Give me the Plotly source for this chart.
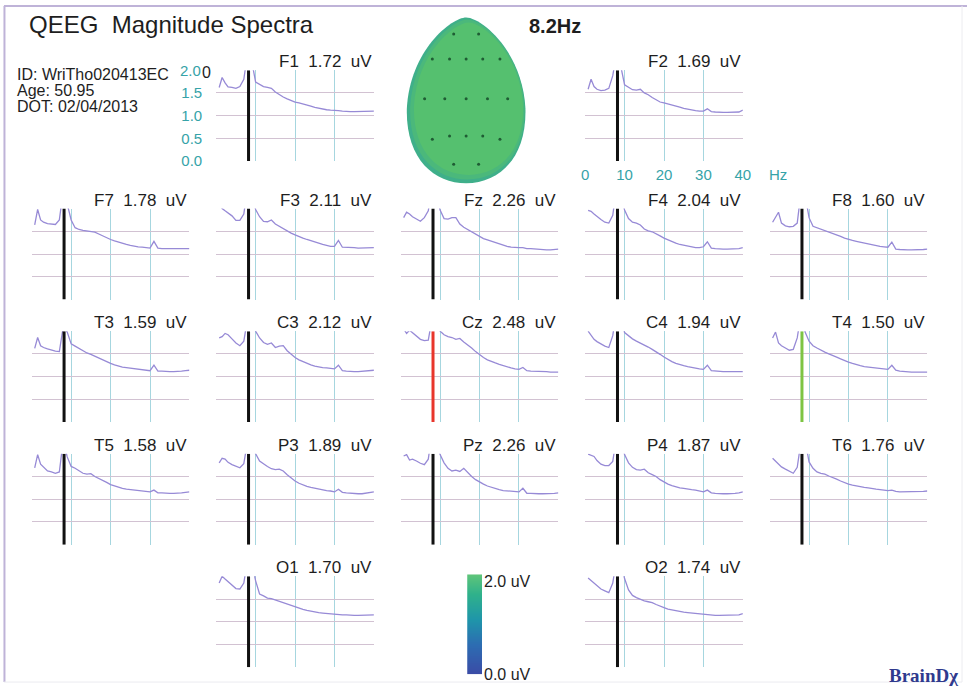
import plotly.graph_objects as go

# ---------------- data ----------------
FREQ_HZ = [0.75, 1.5, 2.25, 3, 4, 5, 6, 7, 8, 9, 10, 11, 12, 13, 14, 15, 16, 17, 18, 19, 20,
           21, 22, 23, 24, 25, 26, 27, 28, 29, 30, 31, 32, 33, 34, 35, 36, 37, 38, 39, 40]

CHANNELS = ["F1", "F2", "F7", "F3", "Fz", "F4", "F8", "T3", "C3", "Cz", "C4", "T4",
            "T5", "P3", "Pz", "P4", "T6", "O1", "O2"]
MAGNITUDE_UV = [1.72, 1.69, 1.78, 2.11, 2.26, 2.04, 1.60, 1.59, 2.12, 2.48, 1.94, 1.50,
                1.58, 1.89, 2.26, 1.87, 1.76, 1.70, 1.74]
PEAK_FREQ_HZ = 8.2

SPEC_F1 = [1.62, 1.84, 1.72, 1.63, 1.62, 1.60, 1.64, 1.80, 2.40, 2.20, 1.74, 1.68, 1.64, 1.62, 1.60, 1.52, 1.46, 1.41, 1.37, 1.33, 1.30,
           1.28, 1.26, 1.24, 1.21, 1.18, 1.16, 1.14, 1.13, 1.12, 1.12, 1.11, 1.10, 1.09, 1.09, 1.09, 1.09, 1.09, 1.09, 1.09, 1.10]
SPEC_F2 = [1.58, 1.80, 1.64, 1.58, 1.55, 1.56, 1.60, 1.88, 2.40, 2.10, 1.68, 1.62, 1.57, 1.56, 1.58, 1.50, 1.46, 1.40, 1.35, 1.30, 1.28,
           1.26, 1.24, 1.22, 1.19, 1.16, 1.14, 1.12, 1.11, 1.10, 1.10, 1.15, 1.09, 1.08, 1.07, 1.07, 1.07, 1.07, 1.07, 1.08, 1.12]
SPEC_F7 = [1.64, 1.98, 1.75, 1.70, 1.67, 1.66, 1.65, 1.75, 2.40, 2.10, 1.75, 1.58, 1.54, 1.52, 1.51, 1.50, 1.48, 1.44, 1.40, 1.35, 1.32,
           1.29, 1.26, 1.23, 1.21, 1.19, 1.17, 1.16, 1.15, 1.14, 1.13, 1.28, 1.13, 1.12, 1.12, 1.12, 1.11, 1.11, 1.11, 1.12, 1.12]
SPEC_F3 = [2.15, 2.00, 1.95, 1.90, 1.84, 1.74, 1.74, 1.88, 2.50, 2.30, 1.98, 1.82, 1.72, 1.71, 1.75, 1.66, 1.61, 1.55, 1.50, 1.46, 1.42,
           1.38, 1.35, 1.32, 1.29, 1.26, 1.23, 1.21, 1.19, 1.17, 1.17, 1.30, 1.15, 1.15, 1.14, 1.14, 1.13, 1.13, 1.13, 1.14, 1.14]
SPEC_FZ = [1.80, 1.92, 1.88, 1.82, 1.77, 1.72, 1.80, 1.95, 2.50, 2.30, 1.97, 1.78, 1.77, 1.80, 1.80, 1.66, 1.59, 1.54, 1.48, 1.43, 1.38,
           1.34, 1.31, 1.28, 1.25, 1.22, 1.19, 1.17, 1.15, 1.14, 1.14, 1.14, 1.12, 1.12, 1.11, 1.11, 1.10, 1.09, 1.09, 1.10, 1.11]
SPEC_F4 = [1.96, 1.94, 1.88, 1.82, 1.76, 1.70, 1.68, 1.85, 2.50, 2.30, 1.97, 1.78, 1.70, 1.68, 1.64, 1.55, 1.51, 1.49, 1.45, 1.40, 1.35,
           1.31, 1.27, 1.24, 1.21, 1.19, 1.17, 1.15, 1.14, 1.14, 1.16, 1.27, 1.13, 1.12, 1.11, 1.11, 1.11, 1.11, 1.11, 1.12, 1.14]
SPEC_F8 = [1.70, 1.80, 1.92, 1.68, 1.62, 1.60, 1.61, 1.68, 2.40, 2.30, 1.80, 1.61, 1.58, 1.55, 1.52, 1.49, 1.46, 1.42, 1.39, 1.35, 1.32,
           1.30, 1.28, 1.26, 1.24, 1.22, 1.20, 1.18, 1.17, 1.16, 1.15, 1.26, 1.11, 1.10, 1.09, 1.09, 1.09, 1.09, 1.09, 1.10, 1.11]
SPEC_T3 = [1.62, 1.86, 1.68, 1.64, 1.61, 1.58, 1.56, 1.55, 2.10, 1.98, 1.72, 1.67, 1.62, 1.57, 1.52, 1.49, 1.45, 1.40, 1.36, 1.32, 1.29,
           1.26, 1.23, 1.21, 1.20, 1.19, 1.18, 1.17, 1.16, 1.14, 1.13, 1.25, 1.12, 1.12, 1.11, 1.11, 1.11, 1.11, 1.12, 1.13, 1.14]
SPEC_C3 = [1.85, 1.88, 1.95, 1.92, 1.83, 1.74, 1.68, 1.78, 2.30, 2.30, 2.00, 1.85, 1.75, 1.71, 1.74, 1.64, 1.67, 1.68, 1.57, 1.49, 1.42,
           1.37, 1.33, 1.30, 1.26, 1.23, 1.21, 1.20, 1.19, 1.18, 1.17, 1.25, 1.13, 1.12, 1.11, 1.11, 1.11, 1.12, 1.12, 1.13, 1.14]
SPEC_CZ = [2.05, 1.95, 2.02, 1.96, 1.88, 1.82, 1.79, 1.80, 2.30, 2.30, 2.00, 1.92, 1.88, 1.86, 1.82, 1.84, 1.76, 1.70, 1.63, 1.55, 1.48,
           1.42, 1.37, 1.33, 1.30, 1.27, 1.24, 1.21, 1.19, 1.17, 1.16, 1.20, 1.13, 1.12, 1.12, 1.11, 1.11, 1.11, 1.10, 1.10, 1.10]
SPEC_C4 = [2.00, 1.92, 1.82, 1.77, 1.72, 1.67, 1.64, 1.90, 2.50, 2.30, 1.97, 1.89, 1.83, 1.78, 1.74, 1.70, 1.65, 1.60, 1.55, 1.49, 1.43,
           1.37, 1.33, 1.29, 1.26, 1.24, 1.22, 1.20, 1.18, 1.17, 1.16, 1.25, 1.13, 1.12, 1.11, 1.11, 1.11, 1.11, 1.11, 1.11, 1.11]
SPEC_T4 = [1.85, 1.98, 1.74, 1.68, 1.63, 1.58, 1.60, 1.85, 2.40, 1.98, 1.78, 1.68, 1.63, 1.58, 1.54, 1.50, 1.47, 1.43, 1.39, 1.35, 1.32,
           1.29, 1.26, 1.24, 1.22, 1.21, 1.19, 1.18, 1.17, 1.16, 1.16, 1.25, 1.14, 1.12, 1.11, 1.10, 1.10, 1.10, 1.10, 1.10, 1.10]
SPEC_T5 = [1.69, 1.98, 1.77, 1.70, 1.62, 1.60, 1.57, 1.60, 2.30, 1.93, 1.72, 1.68, 1.63, 1.57, 1.55, 1.56, 1.50, 1.46, 1.42, 1.37, 1.32,
           1.29, 1.26, 1.24, 1.22, 1.21, 1.19, 1.18, 1.17, 1.16, 1.16, 1.20, 1.14, 1.14, 1.13, 1.13, 1.13, 1.13, 1.14, 1.15, 1.16]
SPEC_P3 = [1.80, 1.90, 1.88, 1.81, 1.76, 1.72, 1.69, 1.78, 2.30, 2.30, 2.00, 1.84, 1.77, 1.72, 1.67, 1.65, 1.66, 1.62, 1.54, 1.46, 1.40,
           1.35, 1.31, 1.28, 1.26, 1.24, 1.22, 1.20, 1.19, 1.18, 1.16, 1.22, 1.15, 1.14, 1.13, 1.12, 1.12, 1.12, 1.13, 1.14, 1.16]
SPEC_PZ = [1.95, 1.98, 1.86, 1.88, 1.84, 1.79, 1.76, 1.88, 2.50, 2.30, 1.98, 1.80, 1.68, 1.62, 1.64, 1.61, 1.68, 1.58, 1.50, 1.43, 1.37,
           1.33, 1.29, 1.26, 1.23, 1.21, 1.19, 1.18, 1.17, 1.16, 1.16, 1.24, 1.13, 1.13, 1.12, 1.12, 1.12, 1.12, 1.12, 1.13, 1.14]
SPEC_P4 = [1.99, 1.97, 1.94, 1.85, 1.77, 1.74, 1.74, 1.83, 2.40, 2.30, 1.98, 1.80, 1.70, 1.65, 1.64, 1.66, 1.58, 1.54, 1.50, 1.43, 1.37,
           1.33, 1.30, 1.27, 1.25, 1.24, 1.22, 1.21, 1.20, 1.18, 1.16, 1.20, 1.14, 1.13, 1.12, 1.12, 1.12, 1.12, 1.13, 1.14, 1.16]
SPEC_T6 = [1.90, 1.84, 1.76, 1.71, 1.66, 1.62, 1.57, 1.70, 2.30, 2.30, 1.82, 1.68, 1.60, 1.57, 1.55, 1.51, 1.48, 1.44, 1.40, 1.36, 1.33,
           1.31, 1.29, 1.27, 1.26, 1.25, 1.23, 1.22, 1.21, 1.20, 1.19, 1.20, 1.17, 1.16, 1.16, 1.16, 1.16, 1.16, 1.17, 1.17, 1.18]
SPEC_O1 = [1.85, 2.00, 1.94, 1.88, 1.80, 1.73, 1.72, 1.85, 2.40, 2.30, 1.90, 1.61, 1.57, 1.52, 1.51, 1.48, 1.45, 1.42, 1.39, 1.35, 1.32,
           1.29, 1.27, 1.25, 1.23, 1.21, 1.20, 1.19, 1.18, 1.17, 1.16, 1.16, 1.15, 1.15, 1.14, 1.14, 1.14, 1.14, 1.14, 1.14, 1.15]
SPEC_O2 = [1.96, 1.90, 1.85, 1.79, 1.72, 1.68, 1.64, 1.85, 2.40, 2.30, 1.95, 1.70, 1.58, 1.53, 1.49, 1.46, 1.44, 1.42, 1.38, 1.34, 1.31,
           1.28, 1.26, 1.24, 1.22, 1.21, 1.20, 1.19, 1.18, 1.17, 1.16, 1.16, 1.15, 1.14, 1.14, 1.14, 1.14, 1.14, 1.14, 1.15, 1.18]

SPECTRA = {"F1": SPEC_F1, "F2": SPEC_F2, "F7": SPEC_F7, "F3": SPEC_F3, "Fz": SPEC_FZ, "F4": SPEC_F4,
           "F8": SPEC_F8, "T3": SPEC_T3, "C3": SPEC_C3, "Cz": SPEC_CZ, "C4": SPEC_C4, "T4": SPEC_T4,
           "T5": SPEC_T5, "P3": SPEC_P3, "Pz": SPEC_PZ, "P4": SPEC_P4, "T6": SPEC_T6, "O1": SPEC_O1, "O2": SPEC_O2}

# electrode positions on the head map (head-normalised coordinates)
ELEC_X = [-0.21, 0.21, -0.57, -0.28, 0.0, 0.28, 0.57, -0.70, -0.36, 0.0, 0.36, 0.70,
          -0.57, -0.28, 0.0, 0.28, 0.57, -0.21, 0.21]
ELEC_Y = [0.80, 0.80, 0.50, 0.50, 0.50, 0.50, 0.50, 0.02, 0.02, 0.02, 0.02, 0.02,
          -0.47, -0.43, -0.43, -0.43, -0.47, -0.77, -0.77]

Y_TICKS = [0.0, 0.5, 1.0, 1.5]
X_TICKS = [10, 20, 30, 40]
COLORBAR_RANGE = [0.0, 2.0]

SUBJECT_ID = "ID: WriTho020413EC"
SUBJECT_AGE = "Age: 50.95"
SUBJECT_DOT = "DOT: 02/04/2013"

# ---------------- layout / styling ----------------
W, H = 975, 695
PANEL_ROWS = [[None, "F1", None, "F2", None],
              ["F7", "F3", "Fz", "F4", "F8"],
              ["T3", "C3", "Cz", "C4", "T4"],
              ["T5", "P3", "Pz", "P4", "T6"],
              [None, "O1", None, "O2", None]]
COL_LEFT = [32, 218, 404, 590, 776]
ROW_TOP = [71, 211, 335, 459, 583]
PANEL_W, PANEL_H = 159, 92

FONT = "Arial, Liberation Sans, sans-serif"
CURVE = "#978ad6"
VGRID = "#a6d6df"
HGRID = "#d2c2d2"
TEAL = "#36a3a8"
TXT = "#1e1e1e"
NB = "\u00a0"


def px_x(p):
    return p / W


def px_y(p):
    return 1 - p / H


def sfx(i):
    return "" if i == 1 else str(i)


def head_path(s=1.0, dx=0.0, dy=0.0):
    pts = [(0, 1), (0.25, 1.0), (0.95, 0.60), (1.0, -0.1), (1.02, -0.70), (0.55, -1.0), (0, -1.0),
           (-0.55, -1.0), (-1.02, -0.70), (-1.0, -0.1), (-0.95, 0.60), (-0.25, 1.0), (0, 1)]
    q = [f"{x * s + dx:.4f},{y * s + dy:.4f}" for x, y in pts]
    return f"M {q[0]} C {q[1]} {q[2]} {q[3]} C {q[4]} {q[5]} {q[6]} C {q[7]} {q[8]} {q[9]} C {q[10]} {q[11]} {q[12]} Z"


mag = dict(zip(CHANNELS, MAGNITUDE_UV))
max_ch = max(mag, key=mag.get)
min_ch = min(mag, key=mag.get)
marker_color = {ch: "#111111" for ch in CHANNELS}
marker_color[max_ch] = "#e8352c"
marker_color[min_ch] = "#7dc443"

fig = go.Figure()
lay = {}
ann = []
shapes = []

idx = 0
for r, row in enumerate(PANEL_ROWS):
    for c, ch in enumerate(row):
        if ch is None:
            continue
        idx += 1
        s = sfx(idx)
        xr, yr = "x" + s, "y" + s
        lay["xaxis" + s] = dict(
            domain=[px_x(COL_LEFT[c]), px_x(COL_LEFT[c] + PANEL_W)], range=[0, 40],
            anchor=yr, tickvals=X_TICKS, ticktext=[str(v) for v in X_TICKS],
            showgrid=True, gridcolor=VGRID, gridwidth=1, zeroline=False, showline=False,
            ticks="", showticklabels=(ch == "F2"), ticklabelstandoff=3,
            tickfont=dict(family=FONT, size=15, color=TEAL), fixedrange=True)
        lay["yaxis" + s] = dict(
            domain=[px_y(ROW_TOP[r] + PANEL_H), px_y(ROW_TOP[r])], range=[0, 2.0],
            anchor=xr, tickvals=Y_TICKS, ticktext=[f"{v:.1f}" for v in Y_TICKS],
            showgrid=True, gridcolor=HGRID, gridwidth=1, zeroline=False, showline=False,
            ticks="", showticklabels=(ch == "F1"), ticklabelstandoff=13,
            tickfont=dict(family=FONT, size=15, color=TEAL), fixedrange=True)
        fig.add_trace(go.Scatter(x=FREQ_HZ, y=SPECTRA[ch], xaxis=xr, yaxis=yr, mode="lines",
                                 line=dict(color=CURVE, width=1.3), hoverinfo="skip",
                                 showlegend=False))
        fig.add_trace(go.Scatter(x=[PEAK_FREQ_HZ, PEAK_FREQ_HZ], y=[0, 2.0], xaxis=xr, yaxis=yr,
                                 mode="lines", line=dict(color=marker_color[ch], width=3),
                                 hoverinfo="skip", showlegend=False))
        ann.append(dict(text=f"{ch}{NB}{NB}{mag[ch]:.2f}{NB}{NB}uV", xref=xr + " domain",
                        yref=yr + " domain", x=1, y=1, xanchor="right", yanchor="bottom",
                        xshift=0, yshift=-3, showarrow=False,
                        font=dict(family=FONT, size=17, color=TXT)))
        if ch == "F1":
            ann.append(dict(text="2.0", xref=xr + " domain", yref=yr, x=0, y=2.0,
                            xanchor="right", yanchor="middle", xshift=-13, showarrow=False,
                            font=dict(family=FONT, size=15, color=TEAL)))
        if ch == "F2":
            ann.append(dict(text="0", xref=xr, yref=yr + " domain", x=0, y=0,
                            xanchor="center", yanchor="top", yshift=-3, showarrow=False,
                            font=dict(family=FONT, size=15, color=TEAL)))
            ann.append(dict(text="Hz", xref=xr + " domain", yref=yr + " domain", x=1, y=0,
                            xanchor="left", yanchor="top", xshift=24, yshift=-3, showarrow=False,
                            font=dict(family=FONT, size=15, color=TEAL)))

# ---- head map ----
idx += 1
hs = sfx(idx)
lay["xaxis" + hs] = dict(domain=[px_x(409), px_x(531)], range=[-1.02, 1.02], visible=False,
                         anchor="y" + hs, fixedrange=True)
lay["yaxis" + hs] = dict(domain=[px_y(187), px_y(16)], range=[-1.02, 1.02], visible=False,
                         anchor="x" + hs, fixedrange=True)
for sc, dx, dy, col in [(1.0, 0.0, 0.0, "#3faf8a"), (0.965, 0.02, 0.01, "#4bb87b"),
                        (0.92, 0.04, 0.02, "#55c06f")]:
    shapes.append(dict(type="path", xref="x" + hs, yref="y" + hs, layer="below",
                       path=head_path(sc, dx, dy), fillcolor=col, line=dict(width=0)))
fig.add_trace(go.Scatter(x=ELEC_X, y=ELEC_Y, xaxis="x" + hs, yaxis="y" + hs, mode="markers",
                         marker=dict(size=3, color="#1f5c34"), hoverinfo="skip",
                         showlegend=False))

# ---- colour bar ----
idx += 1
cs = sfx(idx)
lay["xaxis" + cs] = dict(domain=[px_x(471), px_x(486)], range=[-0.5, 0.5], visible=False,
                         anchor="y" + cs, fixedrange=True)
lay["yaxis" + cs] = dict(domain=[px_y(682), px_y(581)], range=COLORBAR_RANGE, visible=False,
                         anchor="x" + cs, fixedrange=True)
fig.add_trace(go.Heatmap(z=[[COLORBAR_RANGE[0]], [COLORBAR_RANGE[1]]], x=[0], y=COLORBAR_RANGE,
                         xaxis="x" + cs, yaxis="y" + cs, zsmooth="best", showscale=False,
                         zmin=COLORBAR_RANGE[0], zmax=COLORBAR_RANGE[1], hoverinfo="skip",
                         colorscale=[[0.0, "#3b4ba6"], [0.3, "#2d6db2"], [0.55, "#1f96aa"],
                                     [0.8, "#2fb18c"], [1.0, "#5fc57a"]]))
ann.append(dict(text=f"{COLORBAR_RANGE[1]:.1f}{NB}uV", xref="paper", yref="paper", x=px_x(486), y=px_y(588),
                xanchor="left", yanchor="middle", showarrow=False,
                font=dict(family=FONT, size=16, color=TXT)))
ann.append(dict(text=f"{COLORBAR_RANGE[0]:.1f}{NB}uV", xref="paper", yref="paper", x=px_x(486), y=px_y(682),
                xanchor="left", yanchor="middle", showarrow=False,
                font=dict(family=FONT, size=16, color=TXT)))

# ---- texts ----
ann.append(dict(text=f"QEEG{NB}{NB}Magnitude Spectra", xref="paper", yref="paper",
                x=px_x(27), y=px_y(25), xanchor="left", yanchor="middle", showarrow=False,
                font=dict(family=FONT, size=24, color=TXT)))
ann.append(dict(text=f"<b>{PEAK_FREQ_HZ}Hz</b>", xref="paper", yref="paper",
                x=px_x(531), y=px_y(26), xanchor="left", yanchor="middle", showarrow=False,
                font=dict(family=FONT, size=20, color=TXT)))
for txt, yy in [(SUBJECT_ID, 75), (SUBJECT_AGE, 91.5), (SUBJECT_DOT, 108)]:
    ann.append(dict(text=txt, xref="paper", yref="paper", x=px_x(16), y=px_y(yy),
                    xanchor="left", yanchor="middle", showarrow=False, borderpad=0,
                    font=dict(family=FONT, size=16, color=TXT)))
ann.append(dict(text="0", xref="paper", yref="paper", x=px_x(208), y=px_y(73),
                xanchor="center", yanchor="middle", showarrow=False, borderpad=0,
                font=dict(family=FONT, size=16, color=TXT)))
ann.append(dict(text="<b>BrainDχ</b>", xref="paper", yref="paper", x=px_x(968), y=px_y(683),
                xanchor="right", yanchor="middle", showarrow=False,
                font=dict(family="Liberation Serif, serif", size=19, color="#2f3a8e")))

# ---- frame ----
shapes.append(dict(type="line", xref="paper", yref="paper", x0=px_x(4.5), x1=px_x(4.5),
                   y0=px_y(6), y1=px_y(690), line=dict(color="#bfb3d8", width=2)))
shapes.append(dict(type="line", xref="paper", yref="paper", x0=px_x(4), x1=1,
                   y0=px_y(6), y1=px_y(6), line=dict(color="#bfb3d8", width=2)))
shapes.append(dict(type="line", xref="paper", yref="paper", x0=px_x(970), x1=px_x(970),
                   y0=px_y(6), y1=px_y(690), line=dict(color="#ececf0", width=1)))
shapes.append(dict(type="line", xref="paper", yref="paper", x0=px_x(4), x1=px_x(970),
                   y0=px_y(690), y1=px_y(690), line=dict(color="#ececf0", width=1)))

fig.update_layout(**lay)
fig.update_layout(width=W, height=H, autosize=False, margin=dict(l=0, r=0, t=0, b=0),
                  paper_bgcolor="white", plot_bgcolor="rgba(0,0,0,0)",
                  showlegend=False, annotations=ann, shapes=shapes,
                  font=dict(family=FONT, color=TXT))

fig.write_html("out.html", config={"displayModeBar": False})
